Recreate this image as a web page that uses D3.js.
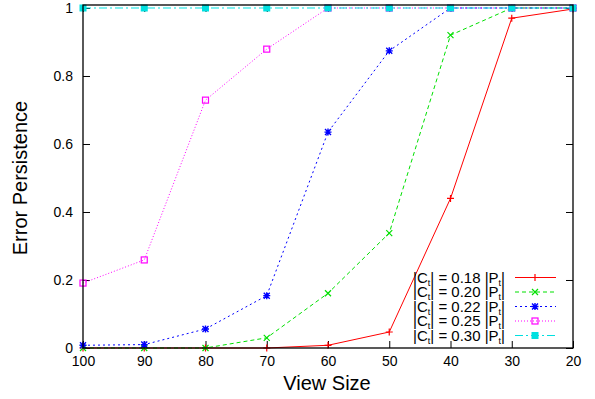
<!DOCTYPE html>
<html>
<head>
<meta charset="utf-8">
<script src="https://cdn.jsdelivr.net/npm/d3@7"></script>
<style>
  body { margin: 0; background: #fff; }
  svg { font-family: "Liberation Sans", Arial, Helvetica, sans-serif; }
</style>
</head>
<body>
<svg id="chart" width="595" height="399"></svg>
<script>
// data
var viewSizes = [100, 90, 80, 70, 60, 50, 40, 30, 20];
var ratios = ["0.18", "0.20", "0.22", "0.25", "0.30"];
var s018 = [0, 0, 0, 0, 0.008, 0.047, 0.44, 0.97, 0.997];
var s020 = [0, 0, 0, 0.03, 0.161, 0.338, 0.92, 1, 1];
var s022 = [0.008, 0.01, 0.056, 0.154, 0.635, 0.874, 1, 1, 1];
var s025 = [0.191, 0.259, 0.729, 0.879, 1, 1, 1, 1, 1];
var s030 = [1, 1, 1, 1, 1, 1, 1, 1, 1];
var xTicks = [100, 90, 80, 70, 60, 50, 40, 30, 20];
var yTicks = [0, 0.2, 0.4, 0.6, 0.8, 1];

var series = [
  { values: s018, color: "#ff0000", dash: null, marker: "plus" },
  { values: s020, color: "#00e000", dash: "4,3", marker: "cross" },
  { values: s022, color: "#0000ff", dash: "2,3", marker: "star" },
  { values: s025, color: "#ff00ff", dash: "1,2", marker: "box" },
  { values: s030, color: "#00e0e0", dash: "8,3,2,3", marker: "fbox" }
];

(function() {
  var svg = d3.select("#chart");
  var mLeft = 83, mRight = 573, mTop = 5, mBottom = 348;

  var x = d3.scaleLinear().domain([100, 20]).range([mLeft, mRight]);
  var y = d3.scaleLinear().domain([0, 1.0088]).range([mBottom, mTop]);

  // ticks on all four sides, inward
  var g = svg.append("g");
  var tickLen = 7;
  var noDomain = function(a) { a.select(".domain").remove(); };
  g.append("g").attr("transform", "translate(0," + mBottom + ")")
    .call(d3.axisBottom(x).tickValues(xTicks).tickSizeInner(-tickLen).tickSizeOuter(0).tickPadding(8))
    .call(noDomain);
  g.append("g").attr("transform", "translate(0," + mTop + ")")
    .call(d3.axisTop(x).tickValues(xTicks).tickSizeInner(-tickLen).tickSizeOuter(0).tickFormat(""))
    .call(noDomain);
  g.append("g").attr("transform", "translate(" + mLeft + ",0)")
    .call(d3.axisLeft(y).tickValues(yTicks).tickSizeInner(-tickLen).tickSizeOuter(0).tickPadding(10).tickFormat(d3.format("")))
    .call(noDomain);
  g.append("g").attr("transform", "translate(" + mRight + ",0)")
    .call(d3.axisRight(y).tickValues(yTicks).tickSizeInner(-tickLen).tickSizeOuter(0).tickFormat(""))
    .call(noDomain);
  g.selectAll(".tick line").attr("stroke", "#000");
  g.selectAll(".tick text").attr("fill", "#000").style("font-size", "14px")
    .style("font-family", "'Liberation Sans', Arial, sans-serif");

  function drawMarker(sel, type, color) {
    if (type === "plus") {
      sel.append("path").attr("d", "M-3.5,0H3.5M0,-3.5V3.5")
        .attr("stroke", color).attr("stroke-width", 1.2).attr("fill", "none");
    } else if (type === "cross") {
      sel.append("path").attr("d", "M-3,-3L3,3M-3,3L3,-3")
        .attr("stroke", color).attr("stroke-width", 1.2).attr("fill", "none");
    } else if (type === "star") {
      sel.append("path").attr("d", "M-3.5,0H3.5M0,-3.5V3.5M-3,-3L3,3M-3,3L3,-3")
        .attr("stroke", color).attr("stroke-width", 1.4).attr("fill", "none");
    } else if (type === "box") {
      sel.append("rect").attr("x", -3).attr("y", -3).attr("width", 6).attr("height", 6)
        .attr("stroke", color).attr("stroke-width", 1.2).attr("fill", "none");
    } else {
      sel.append("rect").attr("x", -3.5).attr("y", -3.5).attr("width", 7).attr("height", 7)
        .attr("fill", color);
    }
  }

  var line = d3.line().x(function(d, i) { return x(viewSizes[i]); }).y(function(d) { return y(d); });

  var plot = svg.append("g");
  series.forEach(function(s) {
    plot.append("path").attr("d", line(s.values)).attr("fill", "none")
      .attr("stroke", s.color).attr("stroke-width", 1)
      .attr("stroke-dasharray", s.dash);
    s.values.forEach(function(v, i) {
      var m = plot.append("g").attr("transform", "translate(" + x(viewSizes[i]) + "," + y(v) + ")");
      drawMarker(m, s.marker, s.color);
    });
  });

  // border
  svg.append("rect").attr("x", mLeft).attr("y", mTop).attr("width", mRight - mLeft).attr("height", mBottom - mTop)
    .attr("fill", "none").attr("stroke", "#000").attr("stroke-width", 1.3);

  // legend
  var legend = svg.append("g");
  series.forEach(function(s, i) {
    var ly = 277.5 + i * 14.5;
    var t = legend.append("text").attr("x", 505).attr("y", ly + 5).attr("text-anchor", "end")
      .style("font-size", "15px").attr("fill", "#000");
    t.append("tspan").text("|C");
    t.append("tspan").attr("dy", 3).style("font-size", "9px").text("t");
    t.append("tspan").attr("dy", -3).text("| = " + ratios[i] + " |P");
    t.append("tspan").attr("dy", 3).style("font-size", "9px").text("t");
    t.append("tspan").attr("dy", -3).text("|");
    legend.append("line").attr("x1", 515).attr("x2", 556).attr("y1", ly).attr("y2", ly)
      .attr("stroke", s.color).attr("stroke-width", 1).attr("stroke-dasharray", s.dash);
    drawMarker(legend.append("g").attr("transform", "translate(535," + ly + ")"), s.marker, s.color);
  });

  // axis titles
  svg.append("text").attr("x", 327).attr("y", 390).attr("text-anchor", "middle")
    .style("font-size", "20px").text("View Size");
  svg.append("text").attr("transform", "translate(27,178) rotate(-90)").attr("text-anchor", "middle")
    .style("font-size", "20px").text("Error Persistence");
})();
</script>
</body>
</html>
